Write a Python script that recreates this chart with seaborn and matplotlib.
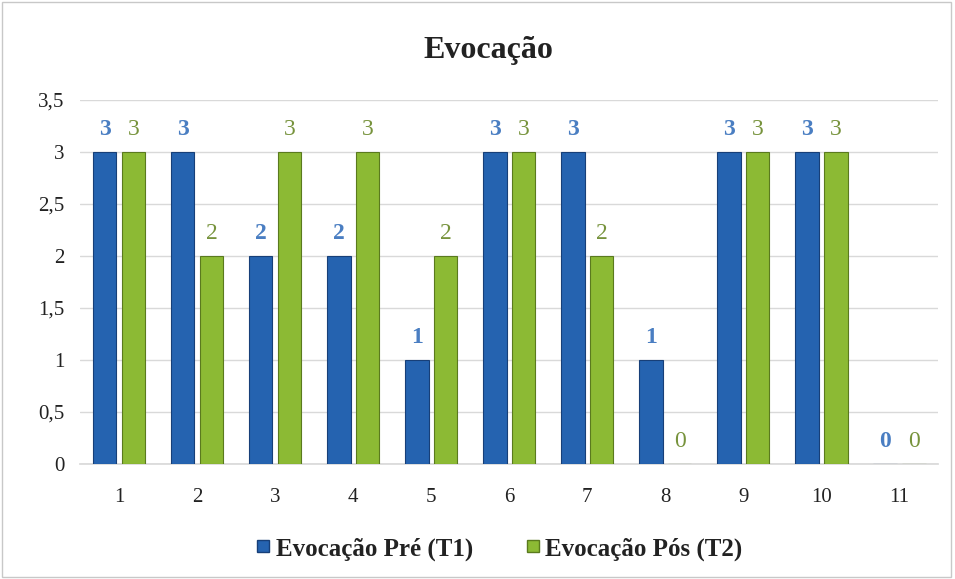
import matplotlib
matplotlib.use("Agg")
import matplotlib.pyplot as plt
import seaborn as sns
import pandas as pd
from matplotlib.patches import Rectangle
from matplotlib.lines import Line2D

categories = ["1", "2", "3", "4", "5", "6", "7", "8", "9", "10", "11"]
pre_t1 = [3, 3, 2, 2, 1, 3, 3, 1, 3, 3, 0]
pos_t2 = [3, 2, 3, 3, 2, 3, 2, 0, 3, 3, 0]
series_names = ["Evocação Pré (T1)", "Evocação Pós (T2)"]
title = "Evocação"
yticks = [0, 0.5, 1, 1.5, 2, 2.5, 3, 3.5]
ytick_labels = ["0", "0,5", "1", "1,5", "2", "2,5", "3", "3,5"]

blue = "#2563b0"
green = "#8cba34"
blue_edge = "#173f78"
green_edge = "#5a7a1e"
blue_lbl = "#4a7ec2"
green_lbl = "#77933c"

df = pd.DataFrame({
    "cat": categories * 2,
    "val": pre_t1 + pos_t2,
    "series": [series_names[0]] * len(categories) + [series_names[1]] * len(categories),
})

sns.set_theme(style="white")
plt.rcParams["font.family"] = ["Liberation Serif", "DejaVu Serif"]

fig = plt.figure(figsize=(9.55, 5.79), dpi=100)
fig.patches.append(Rectangle((0.002, 0.004), 0.994, 0.992, transform=fig.transFigure,
                             fill=False, edgecolor="#c8c8c8", linewidth=1.0))
ax = fig.add_axes([0.0838, 0.1986, 0.8987, 0.6287])

W = 0.74
sns.barplot(data=df, x="cat", y="val", hue="series", order=categories,
            hue_order=series_names, palette=[blue, green], width=W, gap=0.18,
            saturation=1, edgecolor="none", linewidth=0, ax=ax, legend=False, zorder=3)

for p in ax.patches:
    cx = p.get_x() + p.get_width() / 2
    is_blue = cx < round(cx)
    p.set_edgecolor(blue_edge if is_blue else green_edge)
    p.set_linewidth(0.8)

ax.set_ylim(0, 3.5)
ax.set_xlim(-0.5, len(categories) - 0.5)
ax.set_yticks(yticks)
ax.set_yticklabels(ytick_labels)
ax.yaxis.grid(True, color="#d9d9d9", linewidth=1.0, zorder=0)
ax.set_axisbelow(True)
for s in ["top", "right", "left"]:
    ax.spines[s].set_visible(False)
ax.spines["bottom"].set_color("#d9d9d9")
ax.tick_params(axis="both", labelsize=15, length=0, colors="#222222")
ax.tick_params(axis="x", pad=17)
ax.tick_params(axis="y", pad=11)
ax.set_xlabel("")
ax.set_ylabel("")

offs = W / 4
for i, (a, b) in enumerate(zip(pre_t1, pos_t2)):
    ax.text(i - offs, a + 0.12, str(a), ha="center", va="bottom", color=blue_lbl,
            fontsize=17, fontweight="bold")
    ax.text(i + offs, b + 0.12, str(b), ha="center", va="bottom", color=green_lbl,
            fontsize=17)

fig.text(0.511, 0.912, title, ha="center", va="center", fontsize=23, fontweight="bold",
         color="#222222")

handles = [Line2D([], [], marker="s", linestyle="none", markersize=9,
                  markerfacecolor=blue, markeredgecolor=blue_edge),
           Line2D([], [], marker="s", linestyle="none", markersize=9,
                  markerfacecolor=green, markeredgecolor=green_edge)]
fig.legend(handles, series_names, loc="center", bbox_to_anchor=(0.52, 0.052), ncol=2,
           frameon=False, prop={"size": 18, "weight": "bold"}, handletextpad=0.0,
           columnspacing=1.9, handlelength=1.0, labelcolor="#222222")

fig.savefig("out.png", dpi=100)
